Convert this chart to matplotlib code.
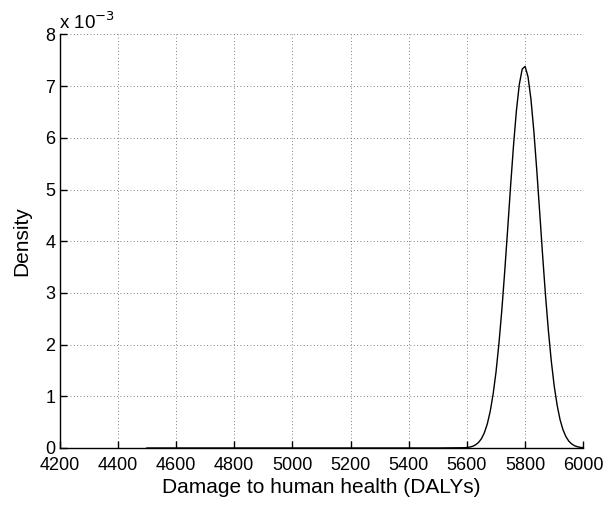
import matplotlib
matplotlib.use("Agg")
import matplotlib.pyplot as plt

# Density curve (x in DALYs, y in units of 1e-3)
x_vals = [4500, 5000, 5500, 5590,
          5600, 5610, 5620, 5630, 5640, 5650, 5660, 5670, 5680, 5690,
          5700, 5710, 5720, 5730, 5740, 5750, 5760, 5770, 5780, 5790,
          5800, 5810, 5820, 5830, 5840, 5850, 5860, 5870, 5880, 5890,
          5900, 5910, 5920, 5930, 5940, 5950, 5960, 5970, 5980, 5990, 6000]
y_vals = [0.0, 0.0, 0.0, 0.005,
          0.0095, 0.018, 0.034, 0.062, 0.108, 0.18, 0.296, 0.465, 0.707, 1.04,
          1.47, 2.02, 2.67, 3.42, 4.23, 5.06, 5.84, 6.52, 7.03, 7.33,
          7.38, 7.18, 6.75, 6.13, 5.38, 4.57, 3.74, 2.96, 2.27, 1.68,
          1.20, 0.83, 0.55, 0.356, 0.222, 0.134, 0.078, 0.044, 0.024, 0.012, 0.006]

x_ticks = [4200, 4400, 4600, 4800, 5000, 5200, 5400, 5600, 5800, 6000]
y_ticks = [0, 1, 2, 3, 4, 5, 6, 7, 8]

plt.rcParams['font.family'] = ['Liberation Sans', 'DejaVu Sans']

fig = plt.figure(figsize=(6.06, 5.07), dpi=100)
ax = fig.add_axes([59.6 / 606, 1 - 448 / 507, (583.3 - 59.6) / 606, (448 - 34.4) / 507])

ax.plot(x_vals, [v * 1e-3 for v in y_vals], color='black', lw=1.0)

ax.set_xlim(4200, 6000)
ax.set_ylim(0, 8e-3)
ax.set_xticks(x_ticks)
ax.set_xticklabels([str(t) for t in x_ticks])
ax.set_yticks([t * 1e-3 for t in y_ticks])
ax.set_yticklabels([str(t) for t in y_ticks])

ax.grid(True, linestyle=(0, (1, 3)), color='#555555', lw=0.6)
ax.set_axisbelow(True)
for s in ['top', 'right']:
    ax.spines[s].set_visible(False)
for s in ['left', 'bottom']:
    ax.spines[s].set_linewidth(1.0)
ax.tick_params(direction='in', length=5, width=1.0, labelsize=13)
ax.tick_params(axis='x', pad=6.5)
ax.tick_params(axis='y', pad=3)

ax.set_xlabel('Damage to human health (DALYs)', fontsize=15, labelpad=3)
ax.set_ylabel('Density', fontsize=15, labelpad=10)

fig.text(59 / 606, 1 - 29 / 507, r'x 10$^{-3}$', fontsize=13.5, ha='left', va='baseline')

fig.savefig('out.png', dpi=100)
